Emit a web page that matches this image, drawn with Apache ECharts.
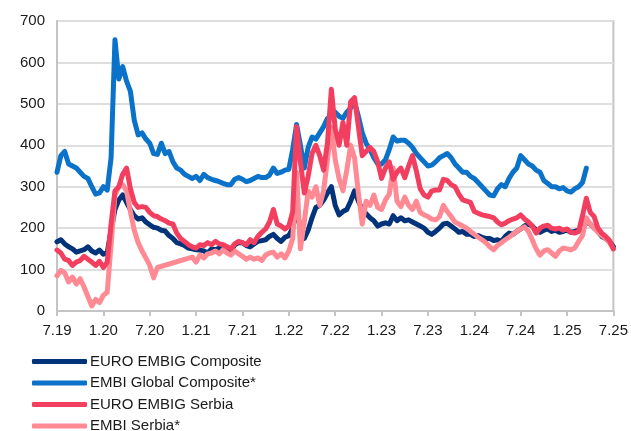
<!DOCTYPE html>
<html>
<head>
<meta charset="utf-8">
<script src="https://cdn.jsdelivr.net/npm/echarts@6/dist/echarts.min.js"></script>
<style>
  html, body { margin: 0; padding: 0; background: #fff; }
  #chart { width: 631px; height: 431px; }
</style>
</head>
<body>
<div id="chart"></div>
<script>
// half-month steps from July 2019 to July 2025
const months = Array.from({ length: 145 }, (_, i) => i / 2);
const tickLabels = ["7.19", "1.20", "7.20", "1.21", "7.21", "1.22", "7.22", "1.23", "7.23", "1.24", "7.24", "1.25", "7.25"];

const euroComposite = [
  167, 172, 162, 155, 150, 142, 145, 148, 155, 145, 140, 147, 137, 140, 195, 245, 268, 280, 262, 245,
  230, 222, 225, 215, 208, 202, 200, 195, 193, 182, 175, 165, 162, 158, 152, 150, 148, 147, 145, 140,
  150, 148, 152, 147, 150, 145, 160, 165, 165, 158, 155, 162, 168, 170, 172, 180, 185, 175, 168, 178,
  182, 200, 245, 200, 175, 195, 225, 250, 255, 268, 285, 300, 255, 232, 240, 245, 265, 290, 265, 245,
  235, 225, 218, 205, 210, 213, 210, 230, 218, 225, 218, 220, 215, 210, 205, 200, 190, 185, 192, 200,
  210, 212, 205, 198, 190, 192, 185, 185, 180, 182, 178, 175, 175, 170, 172, 168, 180, 188, 185, 192,
  198, 205, 210, 205, 195, 190, 195, 198, 192, 195, 190, 192, 195, 190, 192, 195, 200, 215, 210, 200,
  192, 180, 175, 168, 155
];

const embiGlobal = [
  335, 375, 385, 355, 350, 345, 335, 325, 320, 300, 282, 285, 300, 292, 370, 655, 560, 590, 555, 530,
  460, 425, 430, 415, 405, 380, 378, 405, 380, 385, 360, 345, 340, 330, 325, 320, 325, 315, 330, 322,
  318, 315, 312, 308, 305, 305, 318, 322, 318, 312, 315, 320, 325, 322, 322, 328, 345, 332, 335, 340,
  342, 390, 450, 400, 345, 395, 420, 415, 430, 445, 465, 470, 480, 470, 465, 480, 490, 505, 470, 430,
  405, 390, 370, 355, 355, 365, 390, 420, 410, 412, 412, 405, 395, 380, 370, 360, 350, 352, 360, 370,
  375, 380, 370, 355, 345, 335, 335, 325, 320, 310, 300, 290, 280, 278, 295, 305, 300, 320, 335, 345,
  375, 365, 355, 350, 340, 335, 315, 308, 300, 300, 295, 298, 290, 287, 295, 300, 310, 345, null, null,
  null, null, null, null, null
];

const euroSerbia = [
  147, 140, 125, 122, 110, 118, 122, 132, 125, 118, 110, 120, 105, 118, 210, 290, 300, 330, 345, 295,
  262, 250, 252, 250, 238, 230, 228, 222, 218, 212, 210, 188, 175, 168, 160, 155, 152, 160, 158, 165,
  160, 168, 162, 160, 155, 150, 162, 168, 165, 160, 172, 165, 180, 190, 198, 215, 245, 210, 205, 198,
  205, 240, 445, 360, 285, 325, 380, 400, 375, 340, 405, 535, 440, 400, 455, 400, 505, 515, 445, 375,
  385, 395, 385, 360, 320, 345, 360, 318, 335, 345, 322, 350, 375, 338, 295, 280, 275, 290, 292, 292,
  318, 315, 305, 300, 282, 268, 265, 262, 240, 236, 232, 230, 228, 225, 215, 208, 212, 218, 222, 225,
  232, 222, 215, 205, 188, 200, 205, 207, 200, 198, 200, 195, 198, 190, 188, 192, 230, 272, 238, 228,
  200, 188, 180, 170, 150
];

const embiSerbia = [
  85, 98, 92, 70, 82, 65, 78, 58, 35, 12, 28, 20, 38, 45, 160, 280, 300, 305, 290, 240,
  195, 165, 145, 128, 110, 80, 105, null, null, null, null, null, null, null, null, 130, 118, 135, 128, 138,
  140, 145, 138, 148, 140, 135, 145, 138, 132, 125, 130, 125, 128, 122, 135, 140, 142, 130, 138, 128,
  145, 175, 335, 150, 215, 290, 275, 300, 255, 290, 365, 445, 365, 320, 290, 340, 400, 370, 285, 210,
  265, 255, 280, 250, 245, 268, 282, 345, 265, 252, 275, 255, 245, 265, 238, 232, 228, 222, 220, 228,
  255, 240, 228, 215, 210, 205, 200, 192, 185, 178, 172, 165, 155, 148, 158, 165, 172, 178, 185, 192,
  198, 203, 192, 172, 150, 135, 145, 148, 140, 132, 145, 152, 150, 148, 152, 168, 182, 225, 210, 200,
  190, 182, 175, 165, 150
];

const seriesNames = ["EURO EMBIG Composite", "EMBI Global Composite*", "EURO EMBIG Serbia", "EMBI Serbia*"];

function pairs(values) {
  return values.map((v, i) => [months[i], v]);
}

function line(name, values, color) {
  return {
    name: name,
    type: "line",
    data: pairs(values),
    showSymbol: false,
    symbol: "none",
    connectNulls: true,
    lineStyle: { color: color, width: 5, cap: "round", join: "round" },
    itemStyle: { color: color },
  };
}

const chart = echarts.init(document.getElementById("chart"), null, { renderer: "canvas" });
chart.setOption({
  animation: false,
  backgroundColor: "#fff",
  textStyle: { fontFamily: "Liberation Sans, Arial, sans-serif" },
  grid: {
    left: 57,
    right: 15,
    top: 21,
    bottom: 120,
    show: true,
    borderColor: "#c4c4c4",
    borderWidth: 2,
  },
  legend: {
    data: seriesNames,
    orient: "vertical",
    left: 32,
    top: 354,
    height: 80,
    padding: 0,
    itemWidth: 55,
    itemHeight: 5,
    itemGap: 6.5,
    icon: "roundRect",
    textStyle: { fontSize: 15, color: "#1a1a1a", padding: [0, 0, 0, -2] },
  },
  xAxis: {
    type: "value",
    min: 0,
    max: 72,
    interval: 6,
    axisLine: { show: true, lineStyle: { color: "#c4c4c4", width: 2 } },
    axisTick: { show: true, length: 5, lineStyle: { color: "#c4c4c4", width: 2 } },
    splitLine: { show: false },
    axisLabel: {
      fontSize: 15,
      color: "#1a1a1a",
      margin: 12,
      formatter: (v) => tickLabels[Math.round(v / 6)],
    },
  },
  yAxis: {
    type: "value",
    min: 0,
    max: 700,
    interval: 100,
    axisLine: { show: true, lineStyle: { color: "#c4c4c4", width: 2 } },
    axisTick: { show: false },
    splitLine: { show: true, lineStyle: { color: "#dedede", width: 2 } },
    axisLabel: { fontSize: 15, color: "#1a1a1a", margin: 12 },
  },
  series: [
    line(seriesNames[0], euroComposite, "#00337a"),
    line(seriesNames[1], embiGlobal, "#0a72c8"),
    line(seriesNames[3], embiSerbia, "#ff8a94"),
    line(seriesNames[2], euroSerbia, "#f23f5f"),
  ],
});
</script>
</body>
</html>
